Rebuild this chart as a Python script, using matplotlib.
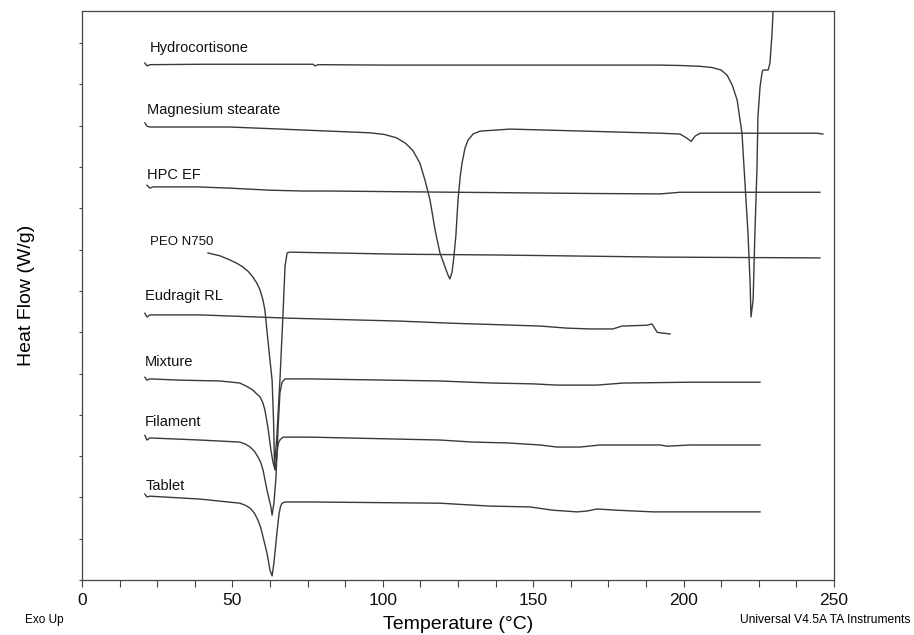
import matplotlib
matplotlib.use("Agg")
import matplotlib.pyplot as plt
import numpy as np
from matplotlib.ticker import MultipleLocator

plt.rcParams['font.family'] = ['Liberation Sans', 'DejaVu Sans']

# DSC traces, temperature (C) and heat flow (W/g, offset stacked)
hc_T = [20.9, 21.6, 22.6, 40, 76.8, 77.5, 78.5, 100, 139, 192, 198.8, 205.5, 209.5, 212.5, 214.5,
        216.2, 217.8, 219.4, 220.4, 221.4, 222.1, 222.4, 223.1, 223.7, 224.4, 224.7, 225.4, 226.1,
        226.4, 228.1, 228.7, 229.4, 229.7, 230.1]
hc_HF = [12.52, 12.45, 12.48, 12.49, 12.49, 12.45, 12.48, 12.47, 12.47, 12.47, 12.46, 12.44, 12.41,
         12.35, 12.22, 11.98, 11.62, 10.82, 9.61, 8.40, 7.19, 6.37, 6.78, 8.40, 10.00, 11.21, 11.94,
         12.30, 12.35, 12.35, 12.52, 13.24, 13.73, 13.95]

mg_T = [20.9, 21.6, 22.6, 49.2, 66, 89.1, 95.7, 100.5, 104.5, 107.5, 110.0, 112.3, 114.0, 115.7,
        117.4, 119.0, 120.7, 121.6, 122.3, 123.0, 123.6, 124.3, 125.0, 125.7, 126.3, 127.3, 128.3,
        130.0, 132.3, 142.3, 192.2, 198.8, 201.1, 202.5, 203.8, 205.5, 244.3, 246.3]
mg_HF = [11.07, 10.99, 10.97, 10.97, 10.92, 10.85, 10.83, 10.79, 10.71, 10.58, 10.40, 10.10, 9.69,
         9.20, 8.47, 7.92, 7.58, 7.40, 7.29, 7.45, 7.80, 8.35, 9.20, 9.75, 10.08, 10.45, 10.65,
         10.80, 10.87, 10.92, 10.82, 10.80, 10.70, 10.62, 10.75, 10.82, 10.82, 10.80]

hpc_T = [21.6, 22.6, 23.6, 38.2, 49.2, 62.5, 73.5, 82.4, 110, 140, 170, 192.2, 198.8, 245.3]
hpc_HF = [9.56, 9.49, 9.52, 9.52, 9.49, 9.44, 9.42, 9.42, 9.40, 9.38, 9.36, 9.35, 9.39, 9.39]

peo_T = [41.9, 45.9, 49.2, 51.5, 53.5, 55.3, 56.8, 58.2, 59.2, 60.1, 60.8, 61.8, 62.6, 63.2, 63.7,
         64.0, 64.8, 65.8, 66.8, 67.5, 68.2, 69.1, 105.7, 139, 192.2, 245.3]
peo_HF = [7.92, 7.85, 7.75, 7.67, 7.58, 7.47, 7.34, 7.18, 7.02, 6.80, 6.54, 5.81, 5.25, 4.84, 3.80,
          2.74, 3.50, 4.84, 6.40, 7.60, 7.92, 7.94, 7.89, 7.87, 7.82, 7.80]

eud_T = [20.9, 21.6, 22.6, 39.2, 69.1, 105.7, 122.3, 152.3, 161.2, 168.9, 176.5, 179.5, 187.8,
         189.5, 191.2, 192.8, 195.5]
eud_HF = [6.46, 6.37, 6.42, 6.42, 6.34, 6.27, 6.22, 6.15, 6.10, 6.08, 6.08, 6.15, 6.17, 6.20,
          6.00, 5.98, 5.96]

mix_T = [20.9, 21.6, 22.6, 32.6, 45.9, 52.5, 55.0, 56.8, 58.2, 59.2, 60.1, 60.8, 61.8, 62.8, 63.5,
         64.2, 64.8, 65.2, 65.8, 66.5, 67.5, 75.8, 119.0, 129.0, 136.6, 149.9, 157.9, 171.2, 179.9,
         202.1, 225.4]
mix_HF = [4.91, 4.84, 4.87, 4.84, 4.82, 4.77, 4.68, 4.60, 4.50, 4.43, 4.30, 4.12, 3.70, 3.15, 2.85,
          2.66, 2.98, 3.70, 4.53, 4.79, 4.87, 4.87, 4.82, 4.79, 4.77, 4.75, 4.72, 4.72, 4.77, 4.79,
          4.79]

fil_T = [20.9, 21.6, 22.6, 39.2, 52.5, 54.3, 55.9, 57.3, 58.5, 59.4, 60.2, 61.5, 62.8, 63.2, 63.8,
         64.5, 64.8, 65.3, 65.8, 66.8, 75.8, 119.0, 130.0, 141.3, 152.3, 157.9, 165.6, 172.2, 192.2,
         194.5, 202.1, 225.4]
fil_HF = [3.50, 3.39, 3.44, 3.39, 3.34, 3.29, 3.22, 3.12, 2.98, 2.85, 2.66, 2.18, 1.77, 1.57, 1.86,
          2.49, 3.08, 3.32, 3.39, 3.46, 3.46, 3.39, 3.34, 3.32, 3.27, 3.22, 3.22, 3.27, 3.27, 3.24,
          3.27, 3.27]

tab_T = [20.9, 21.6, 22.6, 39.2, 52.5, 54.3, 55.9, 57.3, 58.5, 59.4, 60.2, 61.5, 62.5, 63.2, 63.8,
         64.8, 65.5, 66.0, 66.5, 67.5, 75.8, 119.0, 135.6, 148.9, 156.6, 164.6, 167.9, 171.2, 177.9,
         189.8, 205.5, 225.4]
tab_HF = [2.08, 2.01, 2.03, 1.96, 1.86, 1.81, 1.74, 1.62, 1.45, 1.27, 1.04, 0.65, 0.24, 0.10, 0.41,
          1.14, 1.60, 1.78, 1.86, 1.89, 1.89, 1.86, 1.79, 1.77, 1.69, 1.65, 1.67, 1.72, 1.69, 1.65,
          1.65, 1.65]

names = ['Hydrocortisone', 'Magnesium stearate', 'HPC EF', 'PEO N750', 'Eudragit RL',
         'Mixture', 'Filament', 'Tablet']
name_T = [22.6, 21.6, 21.6, 22.6, 21.0, 21.0, 21.0, 21.0]
name_HF = [12.88, 11.38, 9.80, 8.18, 6.88, 5.28, 3.83, 2.28]

fig = plt.figure(figsize=(9.14, 6.35), dpi=100)
ax = fig.add_axes([0.0897, 0.0866, 0.8228, 0.8961])

lc = '#3a3a3a'
for T, HF in [(hc_T, hc_HF), (mg_T, mg_HF), (hpc_T, hpc_HF), (peo_T, peo_HF),
              (eud_T, eud_HF), (mix_T, mix_HF), (fil_T, fil_HF), (tab_T, tab_HF)]:
    ax.plot(T, HF, color=lc, linewidth=1.0)

for n, xt, yt in zip(names, name_T, name_HF):
    fs = 9.5 if n == 'PEO N750' else 10.5
    ax.text(xt, yt, n, fontsize=fs, ha='left', va='center', color='#111111')

ax.set_xlim(0, 250)
ax.set_ylim(0, 13.78)
ax.xaxis.set_major_locator(MultipleLocator(50))
ax.xaxis.set_minor_locator(MultipleLocator(12.5))
ax.yaxis.set_major_locator(MultipleLocator(1))
ax.set_yticklabels([])
ax.tick_params(axis='x', which='both', direction='out', length=5, width=0.8,
               labelsize=12.5, colors='#444444', labelcolor='#111111', pad=4)
ax.tick_params(axis='y', which='both', direction='out', length=2.5, width=0.8, colors='#444444')
for s in ax.spines.values():
    s.set_color('#444444')
    s.set_linewidth(0.9)

ax.set_xlabel('Temperature (°C)', fontsize=14, labelpad=6)
ax.set_ylabel('Heat Flow (W/g)', fontsize=14, labelpad=28)

fig.text(25 / 914, 1 - 620 / 635, 'Exo Up', fontsize=8.5, ha='left', va='center')
fig.text(911 / 914, 1 - 620 / 635, 'Universal V4.5A TA Instruments', fontsize=8.7,
         ha='right', va='center')

fig.savefig('out.png', dpi=100)
